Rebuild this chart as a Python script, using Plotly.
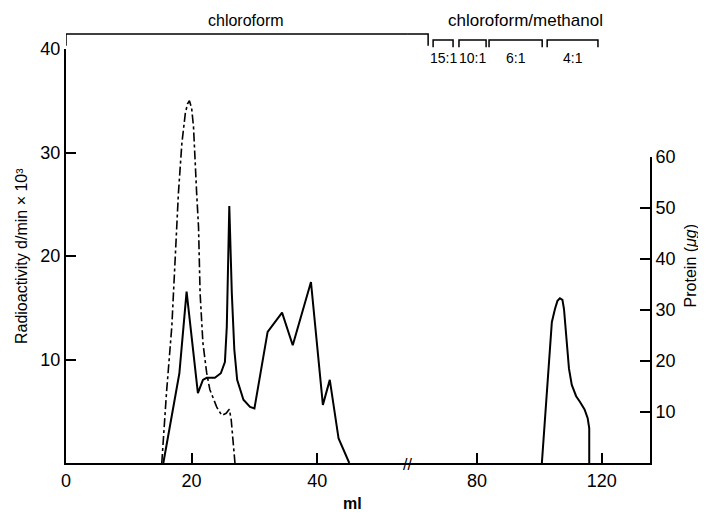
import plotly.graph_objects as go

# ---- data ----
# Radioactivity (d/min x 10^3), dash-dot curve, left axis
ml_radio = [15.25, 16.0, 16.85, 17.4, 17.9, 18.45, 19.0, 19.35, 19.65, 20.0, 20.3, 20.8,
            21.1, 21.35, 21.8, 22.4, 22.9, 24.0, 24.8, 25.5, 26.0, 26.3, 26.9]
radio = [0, 6.8, 13.2, 19.6, 26.1, 30.9, 33.8, 34.7, 35.0, 34.3, 32.5, 26.1,
         22.8, 16.4, 11.6, 8.7, 7.1, 5.4, 4.6, 4.8, 5.2, 4.2, 0]

# Protein (ug), solid curve, right axis - first section (0-54 ml)
ml_prot_a = [15.5, 17.4, 18.05, 19.2, 21.0, 21.8, 22.4, 23.7, 24.65, 25.3, 25.6, 26.0,
             26.4, 26.8, 27.25, 28.25, 29.3, 30.0, 32.1, 34.4, 36.1, 39.0, 40.9,
             42.0, 43.4, 45.1]
prot_a = [0, 13.7, 17.6, 33.6, 13.7, 16.3, 16.7, 16.7, 17.6, 19.8, 26.7, 50.4,
          33.3, 22.2, 16.3, 12.4, 11.0, 10.7, 25.7, 29.5, 23.1, 35.5, 11.4,
          16.3, 4.8, 0]
# Protein - second section (58-135 ml)
ml_prot_b = [100.8, 104.0, 105.0, 105.8, 106.6, 107.4, 107.9, 108.8, 109.5, 110.4,
             111.8, 113.0, 114.5, 115.5, 116.0, 116.0]
prot_b = [0, 27.6, 30.2, 31.8, 32.3, 32.0, 30.2, 24.4, 18.5, 15.3,
          13.1, 12.0, 10.5, 8.8, 6.8, 0]

# axis ticks
x_ticks_a = [0, 20, 40]
x_ticks_b = [80, 120]
y_ticks_left = [10, 20, 30, 40]
y_ticks_right = [10, 20, 30, 40, 50, 60]

# solvent steps (ml)
chloroform_span = [0, 64.3]
ratio_labels = ["15:1", "10:1", "6:1", "4:1"]
ratio_start = [65.9, 74.2, 83.85, 102.5]
ratio_end = [72.3, 82.9, 100.9, 118.8]

# broken x-axis ranges
range_a = [0, 54.3]
range_b = [57.54, 135.5]
split = 0.584

FONT = "Liberation Sans"
BLACK = "black"

fig = go.Figure()
fig.add_trace(go.Scatter(x=ml_radio, y=radio, xaxis="x", yaxis="y", mode="lines",
                         line=dict(color=BLACK, width=1.6, dash="dashdot"),
                         showlegend=False, hoverinfo="skip"))
fig.add_trace(go.Scatter(x=ml_prot_a, y=prot_a, xaxis="x", yaxis="y2", mode="lines",
                         line=dict(color=BLACK, width=2),
                         showlegend=False, hoverinfo="skip"))
fig.add_trace(go.Scatter(x=ml_prot_b, y=prot_b, xaxis="x2", yaxis="y2", mode="lines",
                         line=dict(color=BLACK, width=2),
                         showlegend=False, hoverinfo="skip"))

axis_common = dict(showline=True, linecolor=BLACK, linewidth=2, ticks="inside",
                   ticklen=10, tickwidth=1.6, tickcolor=BLACK, showgrid=False,
                   zeroline=False, automargin=False,
                   tickfont=dict(family=FONT, size=18, color=BLACK))

# page body has an 8px margin: figure is 690x504 placed at (8, 8)
fig.update_layout(
    template="none",
    width=690, height=504, autosize=False,
    margin=dict(l=58, r=48, t=41, b=49),
    paper_bgcolor="white", plot_bgcolor="rgba(0,0,0,0)",
    font=dict(family=FONT, color=BLACK),
    xaxis=dict(domain=[0, split], range=range_a, anchor="y",
               tickvals=x_ticks_a, **axis_common),
    xaxis2=dict(domain=[split, 1], range=range_b, anchor="y",
                tickvals=x_ticks_b, **axis_common),
    yaxis=dict(domain=[0, 1], range=[0, 40], anchor="x", side="left",
               tickvals=y_ticks_left, **axis_common),
    yaxis2=dict(domain=[0, 0.739], range=[0, 60], anchor="x2", side="right",
                tickvals=y_ticks_right, **axis_common),
)

shapes = []
# chloroform bracket (crosses the axis break)
y_top_c, y_end_c = 1.036, 1.008
shapes.append(dict(type="path", xref="x", yref="paper", line=dict(color=BLACK, width=1.5),
                   path=f"M {chloroform_span[0]},{y_end_c} L {chloroform_span[0]},{y_top_c} L {range_a[1]},{y_top_c}"))
shapes.append(dict(type="path", xref="x2", yref="paper", line=dict(color=BLACK, width=1.5),
                   path=f"M {range_b[0]},{y_top_c} L {chloroform_span[1]},{y_top_c} L {chloroform_span[1]},{y_end_c}"))
# chloroform/methanol steps
y_top_r, y_end_r = 1.022, 1.004
for s, e in zip(ratio_start, ratio_end):
    shapes.append(dict(type="path", xref="x2", yref="paper", line=dict(color=BLACK, width=1.5),
                       path=f"M {s},{y_end_r} L {s},{y_top_r} L {e},{y_top_r} L {e},{y_end_r}"))

ann = dict(showarrow=False, xanchor="center", yanchor="middle")
annotations = []
annotations.append(dict(text="chloroform", xref="x", yref="paper", x=28.7, y=1.07,
                        font=dict(size=16, family=FONT), **ann))
annotations.append(dict(text="chloroform/methanol", xref="x2", yref="paper", x=95.7, y=1.07,
                        font=dict(size=17, family=FONT), **ann))
for lab, s, e in zip(ratio_labels, ratio_start, ratio_end):
    annotations.append(dict(text=lab, xref="x2", yref="paper", x=(s + e) / 2, y=0.978,
                            font=dict(size=14, family=FONT), **ann))
annotations.append(dict(text="Radioactivity d/min × 10³", xref="paper", yref="paper",
                        x=-0.077, y=0.5, textangle=-90,
                        font=dict(size=16, family=FONT), **ann))
annotations.append(dict(text="Protein (<i>μg</i>)", xref="paper", yref="paper",
                        x=1.07, y=0.477, textangle=-90,
                        font=dict(size=16, family=FONT), **ann))
annotations.append(dict(text="<b>ml</b>", xref="paper", yref="paper", x=0.49, y=-0.097,
                        font=dict(size=16, family=FONT), **ann))
annotations.append(dict(text="//", xref="paper", yref="paper", x=split, y=-0.003,
                        font=dict(size=16, family=FONT), **ann))

fig.update_layout(shapes=shapes, annotations=annotations)
fig.write_html("out.html")
